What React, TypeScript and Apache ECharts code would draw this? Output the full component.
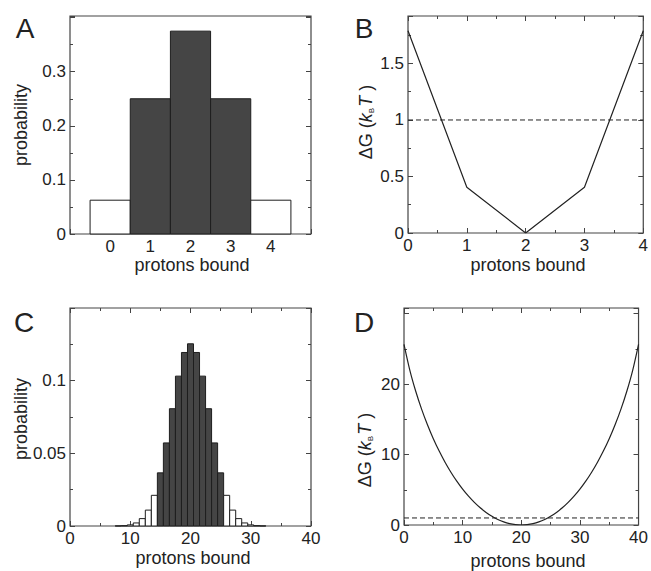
import React, { useEffect, useRef } from "react";
import * as echarts from "echarts";

// ---------- data ----------
// Panel A: 4 binding sites
const aBound = [0, 1, 2, 3, 4];
const aProb = [0.0625, 0.25, 0.375, 0.25, 0.0625];
const aDark = [0, 1, 1, 1, 0];
// Panel B: free energy for 4 sites
const bBound = [0, 1, 2, 3, 4];
const bEnergy = [1.79, 0.405, 0, 0.405, 1.79];
// Panel C: 40 binding sites
const cBound = [8, 9, 10, 11, 12, 13, 14, 15, 16, 17, 18, 19, 20, 21, 22, 23, 24, 25, 26, 27, 28, 29, 30, 31, 32];
const cProb = [
  0.00007, 0.00025, 0.00077, 0.0021, 0.00508, 0.01094, 0.02111, 0.03658, 0.05716, 0.0807, 0.10312,
  0.1194, 0.12537, 0.1194, 0.10312, 0.0807, 0.05716, 0.03658, 0.02111, 0.01094, 0.00508, 0.0021,
  0.00077, 0.00025, 0.00007,
];
const cDark = [0, 0, 0, 0, 0, 0, 0, 1, 1, 1, 1, 1, 1, 1, 1, 1, 1, 1, 0, 0, 0, 0, 0, 0, 0];
// Panel D: free energy for 40 sites
const dBound = [
  0, 1, 2, 3, 4, 5, 6, 7, 8, 9, 10, 11, 12, 13, 14, 15, 16, 17, 18, 19, 20, 21, 22, 23, 24, 25, 26, 27,
  28, 29, 30, 31, 32, 33, 34, 35, 36, 37, 38, 39, 40,
];
const dEnergy = [
  25.65, 21.96, 18.99, 16.45, 14.23, 12.25, 10.49, 8.91, 7.49, 6.22, 5.09, 4.09, 3.21, 2.44, 1.78,
  1.23, 0.785, 0.44, 0.195, 0.049, 0, 0.049, 0.195, 0.44, 0.785, 1.23, 1.78, 2.44, 3.21, 4.09, 5.09,
  6.22, 7.49, 8.91, 10.49, 12.25, 14.23, 16.45, 18.99, 21.96, 25.65,
];
const thermalLine = 1;

// tick labels
const aXTicks = ["0", "1", "2", "3", "4"];
const aYTicks = ["0", "0.1", "0.2", "0.3"];
const bXTicks = ["0", "1", "2", "3", "4"];
const bYTicks = ["0", "0.5", "1", "1.5"];
const cXTicks = ["0", "10", "20", "30", "40"];
const cYTicks = ["0", "0.05", "0.1"];
const dXTicks = ["0", "10", "20", "30", "40"];
const dYTicks = ["0", "10", "20"];

const FONT = "Liberation Sans, Arial, Helvetica, sans-serif";
const INK = "#222";
const BOX = "#444";
const DARKBAR = "#454545";

function fmt(list: string[]) {
  return (v: number) => {
    const hit = list.find((s) => Math.abs(Number(s) - v) < 1e-9);
    return hit === undefined ? "" : hit;
  };
}

function axes(
  gi: number,
  xr: { min: number; max: number; interval: number; minor: number; labels: string[]; topTicks: boolean },
  yr: { min: number; max: number; interval: number; minor: number; labels: string[] }
) {
  const xBase = {
    type: "value",
    gridIndex: gi,
    min: xr.min,
    max: xr.max,
    interval: xr.interval,
    axisLine: { show: false, onZero: false },
    splitLine: { show: false },
  };
  const yBase = {
    type: "value",
    gridIndex: gi,
    min: yr.min,
    max: yr.max,
    interval: yr.interval,
    axisLine: { show: false, onZero: false },
    splitLine: { show: false },
  };
  const xTick = { show: true, inside: true, length: 5, lineStyle: { color: BOX, width: 1 } };
  const xMinor = {
    show: xr.minor > 1,
    splitNumber: xr.minor,
    length: 3,
    lineStyle: { color: BOX, width: 1 },
  };
  const yTick = { show: true, inside: true, length: 5, lineStyle: { color: BOX, width: 1 } };
  const yMinor = {
    show: yr.minor > 1,
    splitNumber: yr.minor,
    length: 3,
    lineStyle: { color: BOX, width: 1 },
  };
  const x = [
    {
      ...xBase,
      position: "bottom",
      axisTick: xTick,
      minorTick: xMinor,
      axisLabel: {
        margin: 4,
        fontSize: 17,
        fontFamily: FONT,
        color: INK,
        formatter: fmt(xr.labels),
        showMinLabel: true,
        showMaxLabel: true,
      },
    },
    {
      ...xBase,
      position: "top",
      axisTick: { ...xTick, show: xr.topTicks },
      minorTick: { ...xMinor, show: xr.topTicks && xr.minor > 1 },
      axisLabel: { show: false },
    },
  ];
  const y = [
    {
      ...yBase,
      position: "left",
      axisTick: yTick,
      minorTick: yMinor,
      axisLabel: {
        margin: 4,
        fontSize: 17,
        fontFamily: FONT,
        color: INK,
        formatter: fmt(yr.labels),
        showMinLabel: true,
        showMaxLabel: true,
      },
    },
    {
      ...yBase,
      position: "right",
      axisTick: yTick,
      minorTick: yMinor,
      axisLabel: { show: false },
    },
  ];
  return { x, y };
}

function histRender(params: any, api: any) {
  const xv = api.value(0);
  const yv = api.value(1);
  const dark = api.value(2);
  const p1 = api.coord([xv - 0.5, yv]);
  const p2 = api.coord([xv + 0.5, 0]);
  return {
    type: "rect",
    shape: { x: p1[0], y: p1[1], width: p2[0] - p1[0], height: p2[1] - p1[1] },
    style: { fill: dark ? DARKBAR : "#ffffff", stroke: "#1e1e1e", lineWidth: 1 },
  };
}

const dgRich = {
  n: { fontSize: 18, fontFamily: FONT, color: INK },
  i: { fontSize: 18, fontFamily: FONT, fontStyle: "italic", color: INK },
  s: { fontSize: 8, fontFamily: FONT, color: INK, verticalAlign: "bottom", padding: [0, 1, 0, 0] },
};

function label(text: string, x: number, y: number, size: number, rotate = false, rich?: any) {
  return {
    type: "text",
    x,
    y,
    rotation: rotate ? Math.PI / 2 : 0,
    silent: true,
    style: {
      text,
      fontSize: size,
      fontFamily: FONT,
      fill: INK,
      align: "center",
      verticalAlign: "middle",
      ...(rich ? { rich } : {}),
    },
  };
}

export default function App() {
  const ref = useRef<HTMLDivElement>(null);
  useEffect(() => {
    if (!ref.current) return;
    const chart = echarts.init(ref.current, undefined, { renderer: "svg" });

    const A = axes(
      0,
      { min: -1, max: 5, interval: 1, minor: 1, labels: aXTicks, topTicks: false },
      { min: 0, max: 0.403, interval: 0.1, minor: 2, labels: aYTicks }
    );
    const B = axes(
      1,
      { min: 0, max: 4, interval: 1, minor: 2, labels: bXTicks, topTicks: true },
      { min: 0, max: 1.92, interval: 0.5, minor: 2, labels: bYTicks }
    );
    const C = axes(
      2,
      { min: 0, max: 40, interval: 10, minor: 2, labels: cXTicks, topTicks: true },
      { min: 0, max: 0.15, interval: 0.05, minor: 2, labels: cYTicks }
    );
    const D = axes(
      3,
      { min: 0, max: 40, interval: 10, minor: 2, labels: dXTicks, topTicks: true },
      { min: 0, max: 30.8, interval: 10, minor: 2, labels: dYTicks }
    );

    const gridStyle = { show: true, borderColor: BOX, borderWidth: 1.2, backgroundColor: "transparent" };

    const option: any = {
      animation: false,
      backgroundColor: "#ffffff",
      grid: [
        { left: 70, top: 16, width: 241, height: 218, ...gridStyle },
        { left: 408, top: 16, width: 238, height: 217, ...gridStyle },
        { left: 70, top: 308, width: 241, height: 218, ...gridStyle },
        { left: 404, top: 308, width: 241, height: 217, ...gridStyle },
      ],
      xAxis: [...A.x, ...B.x, ...C.x, ...D.x],
      yAxis: [...A.y, ...B.y, ...C.y, ...D.y],
      series: [
        {
          type: "custom",
          xAxisIndex: 0,
          yAxisIndex: 0,
          renderItem: histRender,
          encode: { x: 0, y: 1 },
          data: aBound.map((b, i) => [b, aProb[i], aDark[i]]),
        },
        {
          type: "line",
          xAxisIndex: 2,
          yAxisIndex: 2,
          symbol: "none",
          lineStyle: { color: INK, width: 1.2 },
          data: bBound.map((b, i) => [b, bEnergy[i]]),
        },
        {
          type: "line",
          xAxisIndex: 2,
          yAxisIndex: 2,
          symbol: "none",
          lineStyle: { color: INK, width: 1, type: [5, 3] },
          data: [
            [bBound[0], thermalLine],
            [bBound[bBound.length - 1], thermalLine],
          ],
        },
        {
          type: "custom",
          xAxisIndex: 4,
          yAxisIndex: 4,
          renderItem: histRender,
          encode: { x: 0, y: 1 },
          data: cBound.map((b, i) => [b, cProb[i], cDark[i]]),
        },
        {
          type: "line",
          xAxisIndex: 6,
          yAxisIndex: 6,
          symbol: "none",
          smooth: 0.3,
          lineStyle: { color: INK, width: 1.2 },
          data: dBound.map((b, i) => [b, dEnergy[i]]),
        },
        {
          type: "line",
          xAxisIndex: 6,
          yAxisIndex: 6,
          symbol: "none",
          lineStyle: { color: INK, width: 1, type: [5, 3] },
          data: [
            [dBound[0], thermalLine],
            [dBound[dBound.length - 1], thermalLine],
          ],
        },
      ],
      graphic: [
        label("A", 25, 28, 28),
        label("B", 364, 28, 28),
        label("C", 24, 322, 28),
        label("D", 364, 322, 28),
        label("probability", 21, 125, 18, true),
        label("probability", 21, 419, 18, true),
        label("{n|ΔG (}{i|k}{s|B}{i|T}{n| )}", 366, 122, 18, true, dgRich),
        label("{n|ΔG (}{i|k}{s|B}{i|T}{n| )}", 365, 450, 18, true, dgRich),
        label("protons bound", 192, 265, 18),
        label("protons bound", 528, 265, 18),
        label("protons bound", 193, 558, 18),
        label("protons bound", 528, 561, 18),
      ],
    };
    chart.setOption(option);
    return () => chart.dispose();
  }, []);
  return (
    <div
      ref={ref}
      style={{ position: "fixed", left: 0, top: 0, width: 651, height: 571, background: "#fff" }}
    />
  );
}
